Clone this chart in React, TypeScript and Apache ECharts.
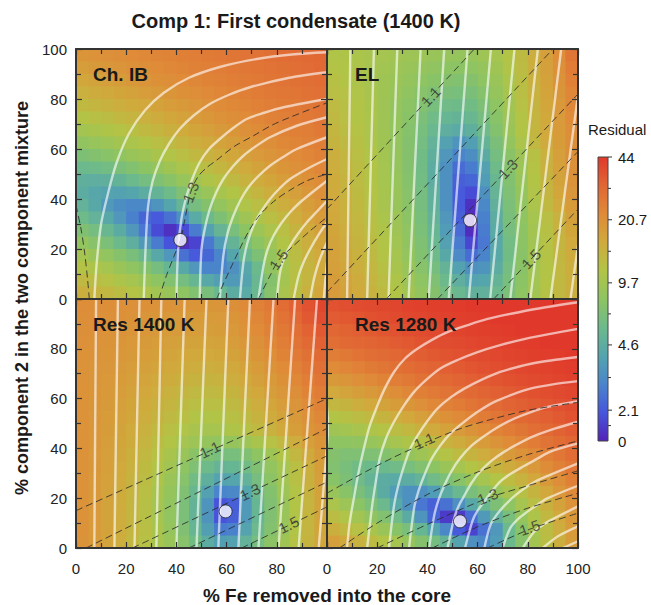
import React, { useEffect, useRef } from 'react';
import * as echarts from 'echarts';

const FONT = "'Liberation Sans', Arial, Helvetica, sans-serif";

// heat-map cell centres (5-unit cells), rows listed from top (97.5) to bottom (2.5)
const cellX = [2.5, 7.5, 12.5, 17.5, 22.5, 27.5, 32.5, 37.5, 42.5, 47.5, 52.5, 57.5, 62.5, 67.5, 72.5, 77.5, 82.5, 87.5, 92.5, 97.5];
const cellY = [97.5, 92.5, 87.5, 82.5, 77.5, 72.5, 67.5, 62.5, 57.5, 52.5, 47.5, 42.5, 37.5, 32.5, 27.5, 22.5, 17.5, 12.5, 7.5, 2.5];

// residual values
const resChIB = [
  [19.7, 20.4, 20.9, 21.4, 22, 22.6, 23.3, 23.8, 24.5, 25, 25.7, 26.3, 26.8, 27.4, 28, 28.6, 29.2, 29.8, 30.3, 30.8],
  [18, 18.7, 19.3, 20, 20.7, 21.3, 22, 22.5, 23.3, 24, 24.6, 25.2, 25.9, 26.5, 27.1, 27.7, 28.3, 29, 29.6, 30.1],
  [16.3, 17, 17.6, 18.3, 19.1, 19.9, 20.7, 21.3, 22, 22.8, 23.6, 24.2, 24.9, 25.6, 26.3, 26.9, 27.5, 28.1, 28.7, 29.3],
  [14.7, 15.3, 15.9, 16.6, 17.3, 18.1, 19, 19.8, 20.7, 21.5, 22.3, 23, 23.8, 24.5, 25.3, 26, 26.6, 27.2, 27.9, 28.5],
  [13, 13.6, 14.2, 14.9, 15.6, 16.4, 17.3, 18.1, 19, 20, 20.9, 21.7, 22.5, 23.4, 24.3, 25, 25.7, 26.4, 27, 27.6],
  [11.4, 11.9, 12.5, 13.2, 13.9, 14.7, 15.5, 16.3, 17.3, 18.3, 19.4, 20.4, 21.2, 22.1, 23, 23.9, 24.7, 25.4, 26.2, 26.8],
  [9.8, 10.3, 10.8, 11.5, 12.2, 13, 13.8, 14.6, 15.6, 16.6, 17.7, 18.7, 19.7, 20.8, 21.7, 22.7, 23.6, 24.4, 25.2, 26],
  [8.2, 8.7, 9.2, 9.8, 10.5, 11.3, 12.1, 12.9, 13.9, 14.9, 15.9, 17, 18, 19.2, 20.5, 21.4, 22.4, 23.3, 24.2, 25],
  [6.8, 7.2, 7.6, 8.1, 8.8, 9.5, 10.3, 11.1, 12.1, 13.2, 14.2, 15.2, 16.3, 17.5, 18.8, 20, 21.1, 22.1, 23, 24],
  [5.6, 5.8, 6.1, 6.6, 7.1, 7.9, 8.6, 9.5, 10.4, 11.5, 12.5, 13.5, 14.6, 15.8, 17.1, 18.4, 19.7, 20.9, 21.8, 23],
  [4.8, 4.7, 4.8, 5.1, 5.6, 6.2, 6.9, 7.7, 8.7, 9.7, 10.8, 11.8, 12.9, 14.2, 15.5, 16.7, 18.1, 19.4, 20.7, 21.8],
  [4.6, 4.2, 4, 3.9, 4.1, 4.6, 5.1, 5.8, 7, 8, 8.9, 10.1, 11.3, 12.5, 13.8, 15.1, 16.5, 17.8, 19.3, 20.8],
  [5, 4.3, 3.6, 3.2, 3, 3, 3.4, 4.1, 5.2, 6.3, 7.3, 8.4, 9.7, 10.9, 12.2, 13.5, 14.9, 16.4, 18, 19.6],
  [5.8, 5, 4.3, 3.5, 2.8, 2.3, 2.1, 2.5, 3.3, 4.4, 5.7, 6.8, 8, 9.4, 10.7, 12, 13.4, 15.1, 16.8, 18.5],
  [7, 6.2, 5.4, 4.5, 3.5, 2.6, 1.9, 1.6, 1.9, 2.7, 3.9, 5.2, 6.5, 7.9, 9.2, 10.6, 12.2, 14, 15.7, 17.5],
  [8.3, 7.5, 6.7, 5.7, 4.7, 3.6, 2.7, 2, 1.6, 1.8, 2.6, 3.7, 5.1, 6.5, 7.9, 9.4, 11.2, 13, 14.9, 16.7],
  [9.9, 9, 8.3, 7.4, 6.5, 5.4, 4.3, 3.5, 2.5, 2.1, 2.3, 2.9, 4.1, 5.4, 6.8, 8.6, 10.5, 12.3, 14.2, 16],
  [11.5, 10.7, 9.9, 9, 8.1, 7.2, 6.3, 5.3, 4.3, 3.5, 2.9, 2.9, 3.3, 4.2, 5.6, 8.2, 10, 11.9, 13.8, 15.8],
  [13.1, 12.3, 11.6, 10.7, 9.9, 8.9, 8, 7.1, 6.2, 5.3, 4.3, 3.8, 3.6, 4, 5.4, 7.3, 9.8, 11.8, 13.8, 16],
  [14.8, 13.9, 13.3, 12.5, 11.5, 10.6, 9.7, 8.9, 8, 7.1, 6.5, 5.5, 4.6, 4.4, 5.5, 7.5, 10.2, 12.3, 14.5, 16.5],
];

const resEL = [
  [11, 10.8, 10.5, 10.2, 9.9, 9.6, 9.3, 9.1, 8.9, 8.7, 8.6, 8.7, 9.3, 10, 11.2, 12.8, 15, 17.8, 21.5, 27],
  [11.4, 11, 10.6, 10.1, 9.7, 9.3, 8.9, 8.5, 8.2, 7.9, 7.8, 8, 8.6, 9.5, 10.9, 12.6, 14.8, 17.5, 20.8, 25.5],
  [11.8, 11.3, 10.7, 10.1, 9.5, 9, 8.5, 8, 7.6, 7.3, 7.1, 7.3, 8, 9, 10.5, 12.3, 14.6, 17.2, 20.2, 24.3],
  [12.2, 11.6, 10.9, 10.2, 9.5, 8.8, 8.1, 7.5, 7, 6.6, 6.4, 6.6, 7.4, 8.5, 10.1, 12, 14.3, 16.8, 19.6, 23.2],
  [12.7, 11.9, 11.1, 10.3, 9.4, 8.6, 7.8, 7.1, 6.4, 5.9, 5.8, 6, 6.8, 8, 9.7, 11.7, 14, 16.5, 19.2, 22.5],
  [13.1, 12.2, 11.3, 10.4, 9.4, 8.5, 7.6, 6.7, 5.9, 5.3, 5.1, 5.4, 6.3, 7.6, 9.3, 11.4, 13.7, 16.2, 18.8, 22],
  [13.5, 12.5, 11.5, 10.5, 9.4, 8.4, 7.4, 6.4, 5.5, 4.7, 4.4, 4.8, 5.8, 7.2, 9, 11.2, 13.5, 16, 18.6, 21.6],
  [14, 12.9, 11.8, 10.7, 9.5, 8.4, 7.3, 6.2, 5, 3.9, 3.4, 3.8, 5.1, 6.6, 8.4, 10.6, 13.2, 15.8, 18.4, 21.4],
  [14.9, 13.5, 12.2, 11, 9.8, 8.5, 7.3, 6, 4.8, 3.5, 2.9, 3.2, 4.5, 6.2, 7.7, 9.4, 11.8, 14.7, 17.7, 21],
  [15.2, 13.8, 12.4, 11.1, 9.9, 8.6, 7.3, 6, 4.6, 3.3, 2.4, 2.7, 3.9, 5.8, 7.4, 9.1, 11.5, 14.4, 17.4, 20.7],
  [15.5, 14.1, 12.6, 11.3, 10, 8.7, 7.4, 6.1, 4.6, 3.3, 2.2, 2.3, 3.7, 5.4, 7.1, 8.8, 11.2, 14, 17, 20.3],
  [15.8, 14.3, 12.8, 11.4, 10.1, 8.8, 7.5, 6.2, 4.8, 3.3, 2.1, 1.9, 3.3, 5.2, 6.9, 8.6, 10.9, 13.6, 16.5, 19.5],
  [16, 14.5, 13, 11.6, 10.2, 8.9, 7.7, 6.3, 4.9, 3.3, 2.1, 1.6, 3, 4.9, 6.7, 8.3, 10.5, 13, 15.8, 18.5],
  [16.2, 14.7, 13.3, 11.9, 10.5, 9.2, 7.8, 6.5, 5.1, 3.5, 2.2, 1.55, 2.8, 4.6, 6.5, 8.1, 10, 12, 14.5, 17.5],
  [16.6, 15.1, 13.6, 12.2, 10.8, 9.4, 8, 6.7, 5.3, 3.7, 2.4, 1.55, 2.7, 4.4, 6.3, 7.9, 9.8, 11.8, 14.2, 16.7],
  [17, 15.5, 14, 12.6, 11.1, 9.7, 8.2, 6.9, 5.5, 3.9, 2.7, 1.85, 2.6, 4.3, 6.1, 7.8, 9.7, 11.6, 13.8, 16],
  [17.4, 15.9, 14.4, 12.9, 11.4, 9.9, 8.4, 7.1, 5.8, 4.3, 3.1, 2.4, 2.9, 4.3, 6, 7.7, 9.6, 11.5, 13.5, 15.5],
  [17.8, 16.3, 14.8, 13.3, 11.8, 10.3, 8.8, 7.5, 6.3, 5.1, 3.9, 3.3, 3.4, 4.6, 6.2, 7.7, 9.6, 11.4, 13.3, 15],
  [18.3, 16.8, 15.3, 13.8, 12.3, 10.8, 9.2, 8, 6.9, 5.7, 4.7, 4, 4.1, 5.1, 6.4, 7.8, 9.6, 11.4, 13.2, 14.8],
  [18.8, 17.3, 15.8, 14.3, 12.8, 11.3, 9.6, 8.4, 7.3, 6.3, 5.5, 4.9, 4.9, 5.6, 6.7, 8, 9.7, 11.5, 13.2, 14.8],
];

const resRes1400 = [
  [21.5, 21.4, 21.3, 21.1, 20.9, 20.6, 20.4, 20.1, 19.9, 19.7, 19.6, 19.9, 21, 22.3, 24, 26.3, 29.3, 32.5, 36.5, 40],
  [21.3, 21.1, 20.9, 20.6, 20.3, 19.9, 19.6, 19.2, 18.9, 18.6, 18.5, 18.8, 19.8, 21.1, 22.8, 25, 27.7, 30.8, 34.5, 38],
  [21, 20.8, 20.5, 20.2, 19.8, 19.4, 19, 18.6, 18.3, 18.1, 18, 18.3, 19.2, 20.4, 22, 24, 26.3, 29, 32, 34.5],
  [20.8, 20.5, 20.1, 19.7, 19.2, 18.7, 18.2, 17.7, 17.3, 17, 16.9, 17.2, 18.1, 19.3, 20.9, 22.8, 25, 27.5, 30.3, 32.5],
  [20.5, 20.2, 19.8, 19.3, 18.7, 18.1, 17.5, 16.9, 16.4, 16.1, 16, 16.3, 17.2, 18.4, 19.8, 21.5, 23.5, 25.8, 28.3, 30],
  [20.5, 20, 19.5, 18.9, 18.2, 17.5, 16.8, 16.1, 15.5, 15.1, 15, 15.3, 16.1, 17.3, 18.6, 20.2, 22.1, 24.2, 26.5, 28.5],
  [20.5, 19.9, 19.2, 18.5, 17.7, 16.9, 16.1, 15.3, 14.6, 14.1, 14, 14.3, 15.1, 16.2, 17.5, 19, 20.7, 22.6, 24.8, 26.8],
  [20.5, 19.8, 19, 18.2, 17.3, 16.4, 15.4, 14.5, 13.7, 13.1, 12.9, 13.2, 14, 15.1, 16.4, 17.9, 19.5, 21.4, 23.5, 25.5],
  [20.5, 19.6, 18.7, 17.7, 16.7, 15.7, 14.6, 13.6, 12.8, 12.2, 12, 12.2, 12.9, 13.9, 15.1, 16.5, 18.1, 19.9, 22, 24],
  [20.5, 19.5, 18.5, 17.4, 16.3, 15.2, 14, 12.9, 12, 11.3, 11, 11.2, 11.9, 12.9, 14.1, 15.5, 17.1, 18.9, 20.9, 22.8],
  [20.5, 19.4, 18.3, 17.1, 15.8, 14.5, 13.2, 12, 10.9, 10.2, 9.9, 10.1, 10.8, 11.8, 13, 14.5, 16.1, 17.9, 19.8, 21.5],
  [20.5, 19.3, 18, 16.7, 15.3, 13.9, 12.5, 11.2, 10, 9.1, 8.5, 8.3, 8.6, 9.3, 10.3, 11.7, 13.4, 15.4, 17.6, 19.8],
  [20.5, 19.2, 17.8, 16.3, 14.8, 13.2, 11.7, 10.3, 8.9, 7.7, 6.9, 6.4, 6.4, 7, 8, 9.3, 11.2, 13.4, 15.9, 18.7],
  [20.5, 19.1, 17.6, 16, 14.4, 12.8, 11.2, 9.6, 8, 6.9, 5.8, 5.2, 5.3, 6, 7, 8.3, 10, 12.2, 14.8, 18],
  [20.5, 19, 17.4, 15.8, 14.1, 12.4, 10.7, 9, 7.5, 6, 4.8, 4, 4.1, 5, 6.3, 7.8, 9.6, 11.9, 14.6, 17.6],
  [20.5, 18.9, 17.3, 15.6, 13.9, 12.1, 10.3, 8.6, 7, 5.4, 3.9, 2.9, 3, 4.1, 5.6, 7.2, 9.1, 11.4, 14.1, 17.3],
  [20.5, 18.8, 17.1, 15.4, 13.6, 11.8, 10, 8.3, 6.7, 5.1, 3.4, 2, 2.2, 3.6, 5.3, 7, 8.9, 11.2, 13.9, 17],
  [20.5, 18.8, 17.1, 15.4, 13.6, 11.8, 10, 8.3, 6.7, 5.1, 3.4, 2, 2.2, 3.6, 5.3, 7, 8.9, 11.1, 13.8, 16.8],
  [20.5, 18.8, 17.1, 15.4, 13.7, 12, 10.3, 8.6, 7, 5.3, 3.8, 2.7, 2.8, 4, 5.6, 7.2, 9, 11.2, 13.8, 16.6],
  [20.3, 18.6, 16.9, 15.1, 13.4, 11.7, 10.1, 8.8, 7.5, 6, 4.6, 3.8, 3.9, 5, 6.2, 7.8, 9.5, 11.5, 14, 16.5],
];

const resRes1280 = [
  [36.4, 37.3, 38, 38.7, 39.4, 40.2, 41, 41.6, 42.2, 42.8, 43.4, 44, 44, 44, 44, 44, 44, 44, 44, 44],
  [33.7, 34.7, 35.7, 36.8, 37.6, 38.4, 39.2, 40, 40.8, 41.5, 42, 42.7, 43.3, 44, 44, 44, 44, 44, 44, 44],
  [31.1, 32.1, 33.1, 34.2, 35.3, 36.5, 37.4, 38.2, 39, 39.8, 40.6, 41.3, 42, 42.6, 43.3, 44, 44, 44, 44, 44],
  [28.9, 30, 30.9, 31.5, 32.6, 33.7, 34.9, 36, 37.2, 38, 38.8, 39.6, 40.5, 41.3, 42, 42.6, 43.2, 44, 44, 44],
  [25.2, 26.4, 27.6, 28.9, 29.9, 31.1, 32.2, 33.3, 34.6, 35.8, 37, 37.8, 38.7, 39.6, 40.4, 41.2, 41.9, 42.6, 43.2, 44],
  [22, 23.2, 24.3, 25.6, 26.8, 28.2, 29.4, 30.6, 31.8, 33, 34.3, 35.6, 36.9, 37.7, 38.6, 39.5, 40.4, 41.2, 42, 42.6],
  [18.9, 20, 21.1, 22.3, 23.6, 24.9, 26.3, 27.8, 28.9, 30.3, 31.6, 32.9, 34.2, 35.4, 36.8, 37.7, 38.6, 39.5, 40.5, 41.3],
  [16, 16.8, 17.9, 19, 20.3, 21.6, 22.9, 24.4, 25.9, 27.4, 28.9, 30, 31.4, 32.8, 34.1, 35.4, 36.8, 37.8, 38.7, 39.7],
  [13.4, 14, 15, 16, 17.1, 18.3, 19.6, 21.1, 22.5, 24, 25.5, 27.1, 28.7, 29.9, 31.4, 32.7, 34.1, 35.5, 36.9, 38],
  [11.3, 11.8, 12.4, 13.2, 14, 15.2, 16.4, 17.7, 19.1, 20.6, 22.2, 23.7, 25.4, 27, 28.6, 30, 31.5, 32.9, 34.4, 36],
  [9.5, 9.8, 10.2, 10.8, 11.5, 12.4, 13.4, 14.6, 15.8, 17.3, 18.8, 20.3, 22, 23.6, 25.4, 27, 28.8, 30.2, 31.9, 33.7],
  [8, 8, 8.2, 8.7, 9.3, 10, 10.8, 11.8, 12.9, 14.2, 15.5, 17, 18.6, 20.3, 22, 23.7, 25.5, 27.4, 29.4, 31.3],
  [7.3, 6.9, 6.9, 6.9, 7.2, 7.7, 8.5, 9.3, 10.3, 11.4, 12.7, 14, 15.4, 16.9, 18.7, 20.5, 22.3, 24.5, 26.7, 29.3],
  [7.1, 6.5, 6, 5.7, 5.7, 5.9, 6.4, 7.1, 7.9, 9, 10, 11.2, 12.5, 14, 15.5, 17.1, 19.2, 21.8, 24, 26.7],
  [7.6, 6.8, 5.9, 5.1, 4.6, 4.4, 4.6, 5.1, 5.9, 6.7, 7.6, 8.8, 9.9, 11.3, 12.7, 14.3, 16.4, 18.9, 21.5, 24.4],
  [8.9, 7.6, 6.6, 5.6, 4.5, 3.7, 3.3, 3.3, 3.7, 4.5, 5.5, 6.5, 7.5, 8.9, 10.2, 11.9, 14, 16.4, 19.3, 22.2],
  [10.4, 9.1, 7.8, 6.7, 5.6, 4.3, 3.3, 2.6, 2.2, 2.5, 3.3, 4.3, 5.5, 6.8, 8, 9.9, 12.1, 14.6, 17.3, 20.5],
  [12.5, 10.9, 9.6, 8.2, 7.1, 5.9, 4.5, 3.4, 2.3, 1.7, 1.7, 2.4, 3.6, 4.9, 6.5, 8.5, 10.7, 13.2, 16, 19.2],
  [14.8, 13.2, 11.7, 10.3, 9, 7.6, 6.5, 5.3, 4, 3, 2.1, 1.8, 2.5, 3.5, 5.6, 7.6, 9.9, 12.4, 15.2, 18.6],
  [17.8, 15.9, 14.3, 12.7, 11.2, 9.9, 8.5, 7.3, 6.2, 5.1, 4, 3.3, 3, 3.7, 5.6, 7.5, 9.8, 12.3, 14.9, 18.3],
];

// colour bar
const colorbarMin = 1.45;
const colorbarMax = 44;
const colorbarTicks = [44, 20.7, 9.7, 4.6, 2.1];
const colorbarTickLabels = ['44', '20.7', '9.7', '4.6', '2.1'];
const colorStops = ['#5222b8', '#4656dc', '#4a84cc', '#54a4ae', '#6cba8c', '#8ec462', '#b2c446', '#d0aa3c', '#df8a38', '#e16634', '#e0392b'];

// white (solid) iso-lines, [x, y] points
const whiteChIB = [
  [[7.3, 0], [8.3, 15], [10, 30], [12.7, 42], [16, 54], [21, 66], [27.5, 75.5], [35, 82.5], [45, 88.5], [58, 93], [72, 96], [86, 97.8], [100, 98.7]],
  [[27, 0], [27.7, 20], [28.7, 37], [30.5, 47], [33.3, 55], [37, 62], [41.3, 68], [47, 73.5], [53.3, 78], [61, 81.7], [69.3, 84.7], [85, 88.5], [100, 90.7]],
  [[40, 0], [40.7, 20], [42, 32], [44, 41], [46.5, 48.5], [49.3, 54.7], [53, 60], [57.3, 64], [62.5, 68.3], [68, 72], [75, 74.5], [82.7, 76.7], [100, 80]],
  [[49.3, 0], [50, 20], [51.5, 29], [53.3, 36], [55.8, 42.5], [58.7, 48], [62.5, 53], [66.7, 57.3], [71.8, 61.2], [77.3, 64.7], [88, 69.3], [100, 72.7]],
  [[57.3, 0], [58.7, 17.3], [60.3, 26], [62.7, 33.3], [65.5, 39.5], [68.7, 44.7], [72.8, 49.3], [77.3, 53.3], [82.5, 56.8], [88, 60], [100, 64.7]],
  [[65.3, 0], [66.7, 14.7], [68.3, 22.5], [70.7, 29.3], [73.8, 35], [77.3, 40], [81.2, 44.3], [85.3, 48], [93.3, 52.7], [100, 56]],
  [[72.7, 0], [74.7, 13.3], [76.4, 20], [78.7, 25.3], [81.8, 30.3], [85.3, 34.7], [89.2, 38.6], [93.3, 42], [100, 47.3]],
  [[80, 0], [81.3, 10.7], [83, 16.5], [85.3, 21.3], [88.5, 26.2], [92, 30.7], [96, 35], [100, 39.3]],
  [[86.7, 0], [88.7, 9.3], [90.8, 15], [93.3, 20], [96.5, 25.5], [100, 30.7]],
  [[93.3, 0], [94.8, 8], [96.8, 15], [100, 22.7]],
  [[98.7, 0], [99.3, 7], [100, 14.7]],
];
const whiteEL = [
  [[8, 0], [9.3, 100]], [[16, 0], [18.7, 100]], [[24.5, 0], [28, 100]], [[32.5, 0], [37.3, 100]],
  [[40.5, 0], [46.7, 100]], [[48.5, 0], [56, 100]], [[56.5, 0], [65.3, 100]], [[65, 0], [74.7, 100]],
  [[73, 0], [84, 100]], [[81, 0], [93.3, 100]], [[89, 0], [102.5, 100]], [[97, 0], [111, 100]],
];
const whiteRes1400 = [
  [[7.3, 0], [8, 100]], [[15.3, 0], [16.7, 100]], [[23.3, 0], [25.3, 100]], [[32, 0], [34, 100]],
  [[40, 0], [43.3, 100]], [[48, 0], [52, 100]], [[56.7, 0], [60.7, 100]], [[64.7, 0], [69.3, 100]],
  [[72.7, 0], [78.7, 100]], [[80.7, 0], [87.3, 100]], [[88.7, 0], [96, 100]], [[96.7, 0], [104.7, 100]],
];
const whiteRes1280 = [
  [[8, 0], [9, 10], [10.7, 20], [12.5, 30], [14.7, 40], [17, 49], [20, 57], [23, 64], [26.7, 70.7], [31, 76], [36, 80], [42, 83.7], [48, 86.7], [56, 89.5], [64, 92], [73, 94], [83, 96], [100, 98.7]],
  [[16, 0], [18, 17], [19.5, 27], [21, 36], [23.5, 44], [26.7, 50.7], [30.5, 57], [34.7, 62.7], [39.5, 67.5], [45, 72], [52, 75.5], [60, 78.7], [69, 81.5], [79, 84], [89, 86], [100, 88]],
  [[24.7, 0], [26.7, 17], [28.5, 25.5], [30.7, 33], [33, 39.5], [36, 45], [40, 51], [44, 56], [49, 60.3], [54.7, 64], [61.5, 67.5], [69, 70.7], [77, 73], [85, 74.7], [100, 76.7]],
  [[32.7, 0], [34.7, 16], [36.5, 23], [38.7, 29], [41.5, 35.5], [45, 41], [49.5, 46.3], [54.7, 50.7], [60.5, 55], [66.7, 58.7], [73.5, 61.5], [81, 64], [90, 65.7], [100, 67]],
  [[40.7, 0], [42.7, 13], [44.5, 19.5], [46.7, 25], [49.5, 30.7], [53, 36], [57.5, 41], [62.7, 45], [68.5, 48.8], [74.7, 52], [81, 54.5], [88, 56.7], [100, 59]],
  [[48, 0], [50.7, 12], [52.5, 17], [54.7, 21], [57.5, 26], [61, 30.7], [65.5, 35], [70.7, 38.7], [76.5, 42], [82.7, 45], [91, 48], [100, 50.7]],
  [[55, 0], [58, 11], [60, 15], [62.7, 18.7], [65.7, 22.8], [69, 26.7], [73.5, 30], [78.7, 33], [84, 36], [89, 38.7], [100, 42]],
  [[62.7, 0], [65, 9], [67.5, 13.2], [70.7, 17], [74.5, 20.7], [78.7, 24], [83, 26.7], [88, 29], [100, 34]],
  [[70, 0], [73, 8], [76.3, 11.8], [80, 14.7], [84, 17.5], [88, 20], [100, 25]],
  [[78, 0], [82.7, 6.7], [86.5, 9.6], [90.7, 12], [100, 16.7]],
  [[86, 0], [92, 4.7], [100, 8.7]],
  [[94, 0], [100, 2.7]],
];

// dashed iso-lines and their labels
const dashedChIB = [
  [[0, 37.5], [2, 28], [3.5, 18], [4.6, 8], [5.3, 0]],
  [[33, 0], [36, 9.3], [39, 17], [41.6, 23.6], [43.2, 31], [45.7, 42.7], [48.5, 48.8], [52, 52.5], [56, 55.5], [63, 61], [70.7, 65.3], [78, 69.5], [85.3, 72.7], [100, 78.5]],
  [[56, 0], [62.7, 14.7], [69.3, 28], [74, 34.5], [80, 40], [86, 44], [92, 47.3], [100, 50]],
  [[72.7, 0], [77.3, 9.3], [80.7, 15.5], [86.7, 21.3], [93.3, 27.3], [100, 32.7]],
];
const labelsChIB = [
  { x: 45.7, y: 42.7, text: '1.3', angle: 68 },
  { x: 80.7, y: 15.8, text: '1.5', angle: 55 },
];
const dashedEL = [
  [[0, 36], [58.7, 100]],
  [[0, 2.7], [90, 100]],
  [[23.6, 0], [100, 82]],
  [[44, 0], [100, 59]],
  [[66.4, 0], [100, 36]],
];
const labelsEL = [
  { x: 41.3, y: 81, text: '1.1', angle: 47 },
  { x: 72, y: 52, text: '1.3', angle: 47 },
  { x: 81.3, y: 16, text: '1.5', angle: 47 },
];
const dashedRes1400 = [
  [[0, 15], [100, 60]],
  [[4, 0], [100, 48]],
  [[22.5, 0], [100, 37]],
  [[45, 0], [100, 26.5]],
  [[66, 0], [100, 16.5]],
];
const labelsRes1400 = [
  { x: 53.3, y: 39.5, text: '1.1', angle: 25 },
  { x: 69.3, y: 22.5, text: '1.3', angle: 26 },
  { x: 84.7, y: 9.3, text: '1.5', angle: 26 },
];
const dashedRes1280 = [
  [[0, 22], [13.3, 29.5], [26.7, 36.5], [38.7, 42], [53.3, 48], [66.7, 52], [80, 55.3], [100, 58.5]],
  [[5, 0], [20, 10], [40, 21.5], [60, 30.5], [80, 37.5], [100, 43]],
  [[20, 0], [40, 9.5], [64, 20], [80, 25], [100, 31]],
  [[42, 0], [60, 8.5], [80, 16], [100, 22]],
  [[64, 0], [80.7, 7.5], [100, 14]],
];
const labelsRes1280 = [
  { x: 38.7, y: 43, text: '1.1', angle: 24 },
  { x: 64, y: 20.7, text: '1.3', angle: 22 },
  { x: 80.7, y: 8.2, text: '1.5', angle: 20 },
];

// best-fit points
const bestChIB = [41.6, 23.6];
const bestEL = [57, 31.5];
const bestRes1400 = [59.6, 14.7];
const bestRes1280 = [53, 10.7];

const panelNames = ['Ch. IB', 'EL', 'Res 1400 K', 'Res 1280 K'];

const panels = [
  { res: resChIB, white: whiteChIB, dashed: dashedChIB, labels: labelsChIB, best: bestChIB },
  { res: resEL, white: whiteEL, dashed: dashedEL, labels: labelsEL, best: bestEL },
  { res: resRes1400, white: whiteRes1400, dashed: dashedRes1400, labels: labelsRes1400, best: bestRes1400 },
  { res: resRes1280, white: whiteRes1280, dashed: dashedRes1280, labels: labelsRes1280, best: bestRes1280 },
];

const gridPos = [
  { left: 76, top: 49, width: 251, height: 250 },
  { left: 327, top: 49, width: 251, height: 250 },
  { left: 76, top: 299, width: 251, height: 249 },
  { left: 327, top: 299, width: 251, height: 249 },
];

function buildOption() {
  const half = (cellX[1] - cellX[0]) / 2;
  const axisBase = (g: number) => ({
    type: 'value',
    gridIndex: g,
    min: 0,
    max: 100,
    interval: 20,
    splitLine: { show: false },
    axisLine: { show: true, onZero: false, lineStyle: { color: '#333', width: 2 } },
    axisTick: { show: true, inside: true, length: 6, lineStyle: { color: '#333', width: 1.2 } },
    minorTick: { show: true, splitNumber: 2, length: 5, lineStyle: { color: '#333', width: 1.2 } },
    minorSplitLine: { show: false },
    z: 10,
  });
  const labelStyle = { fontSize: 15, color: '#222', fontFamily: FONT };
  const xAxis: any[] = [];
  const yAxis: any[] = [];
  gridPos.forEach((_, g) => {
    xAxis.push({
      ...axisBase(g),
      position: 'bottom',
      axisLabel: { show: g >= 2, margin: 13, ...labelStyle, formatter: (v: number) => (g === 2 && v === 100 ? '' : String(v)) },
    });
    xAxis.push({ ...axisBase(g), position: 'top', axisLabel: { show: false } });
    yAxis.push({
      ...axisBase(g),
      position: 'left',
      axisLabel: { show: g % 2 === 0, margin: 9, ...labelStyle, formatter: (v: number) => (g === 2 && v === 100 ? '' : String(v)) },
    });
    yAxis.push({ ...axisBase(g), position: 'right', axisLabel: { show: false } });
  });

  const series: any[] = [];
  panels.forEach((p, g) => {
    const data: number[][] = [];
    p.res.forEach((row, r) => row.forEach((v, c) => data.push([cellX[c], cellY[r], Math.log(v)])));
    series.push({
      type: 'custom',
      xAxisIndex: 2 * g,
      yAxisIndex: 2 * g,
      clip: true,
      silent: true,
      z: 1,
      data,
      renderItem: (params: any, api: any) => {
        const x = api.value(0);
        const y = api.value(1);
        const p0 = api.coord([x - half, y + half]);
        const p1 = api.coord([x + half, y - half]);
        return {
          type: 'rect',
          shape: { x: p0[0], y: p0[1], width: p1[0] - p0[0] + 0.8, height: p1[1] - p0[1] + 0.8 },
          style: { fill: api.visual('color') },
        };
      },
    });
  });
  panels.forEach((p, g) => {
    p.white.forEach((curve) => {
      series.push({
        type: 'line', xAxisIndex: 2 * g, yAxisIndex: 2 * g, data: curve, symbol: 'none', smooth: 0.3,
        silent: true, z: 3, clip: true,
        lineStyle: { color: 'rgba(255,255,255,0.62)', width: 2.4 },
      });
    });
    p.dashed.forEach((curve) => {
      series.push({
        type: 'line', xAxisIndex: 2 * g, yAxisIndex: 2 * g, data: curve, symbol: 'none', smooth: 0.3,
        silent: true, z: 4, clip: true,
        lineStyle: { color: '#2b2b2b', width: 1, type: [7, 4], opacity: 0.85 },
      });
    });
    series.push({
      type: 'scatter', xAxisIndex: 2 * g, yAxisIndex: 2 * g, silent: true, z: 5,
      symbol: 'circle', symbolSize: 1, itemStyle: { color: 'rgba(0,0,0,0)' },
      label: { show: true, position: 'inside', formatter: '{b}', fontSize: 15, color: '#333', fontFamily: FONT },
      data: p.labels.map((l) => ({ name: l.text, value: [l.x, l.y], label: { rotate: l.angle } })),
    });
    series.push({
      type: 'scatter', xAxisIndex: 2 * g, yAxisIndex: 2 * g, silent: true, z: 6,
      symbol: 'circle', symbolSize: 13,
      itemStyle: { color: '#ffffff', borderColor: '#222', borderWidth: 1 },
      data: [p.best],
    });
  });

  // colour bar
  const cbX = 598, cbTop = 157, cbBottom = 441, cbW = 10;
  const lnMin = Math.log(colorbarMin), lnMax = Math.log(colorbarMax);
  const cbY = (v: number) => cbBottom - ((Math.log(v) - lnMin) / (lnMax - lnMin)) * (cbBottom - cbTop);
  const graphics: any[] = [];
  const txt = (x: number, y: number, text: string, font: string, align = 'left', extra: any = {}) => ({
    type: 'text', x, y, z: 20, ...extra,
    style: { text, font, fill: '#1a1a1a', textAlign: align, textVerticalAlign: 'middle', align, verticalAlign: 'middle' },
  });
  graphics.push({
    type: 'rect', shape: { x: cbX, y: cbTop, width: cbW, height: cbBottom - cbTop },
    style: {
      fill: new echarts.graphic.LinearGradient(0, 1, 0, 0, colorStops.map((c, i) => ({ offset: i / (colorStops.length - 1), color: c }))),
      stroke: '#444', lineWidth: 1,
    },
  });
  colorbarTicks.forEach((v, i) => {
    const y = cbY(v);
    graphics.push({ type: 'line', shape: { x1: cbX + cbW, y1: y, x2: cbX + cbW + 4, y2: y }, style: { stroke: '#333', lineWidth: 1 } });
    graphics.push(txt(618, y, colorbarTickLabels[i], `15px ${FONT}`));
    const next = i + 1 < colorbarTicks.length ? colorbarTicks[i + 1] : colorbarMin;
    const ym = cbY(Math.sqrt(v * next));
    graphics.push({ type: 'line', shape: { x1: cbX + cbW, y1: ym, x2: cbX + cbW + 3, y2: ym }, style: { stroke: '#333', lineWidth: 1 } });
  });
  graphics.push(txt(618, cbBottom, '0', `15px ${FONT}`));
  graphics.push(txt(588, 129, 'Residual', `15px ${FONT}`));

  // titles
  graphics.push(txt(296, 21, 'Comp 1: First condensate (1400 K)', `bold 20px ${FONT}`, 'center'));
  graphics.push(txt(327, 595, '% Fe removed into the core', `bold 19px ${FONT}`, 'center'));
  graphics.push(txt(22, 298, '% component 2 in the two component mixture', `bold 18px ${FONT}`, 'center', { rotation: Math.PI / 2 }));
  panelNames.forEach((name, g) => {
    const gp = gridPos[g];
    graphics.push(txt(gp.left + (g % 2 === 0 ? 17 : 28), gp.top + 25, name, `bold 19px ${FONT}`));
  });

  return {
    animation: false,
    backgroundColor: '#ffffff',
    grid: gridPos.map((g) => ({ ...g, containLabel: false })),
    xAxis,
    yAxis,
    visualMap: {
      type: 'continuous', show: false, seriesIndex: [0, 1, 2, 3], dimension: 2,
      min: lnMin, max: lnMax, inRange: { color: colorStops },
    },
    series,
    graphic: graphics,
  };
}

export default function App() {
  const ref = useRef<HTMLDivElement>(null);
  useEffect(() => {
    const chart = echarts.init(ref.current as HTMLDivElement, null, { renderer: 'svg' });
    chart.setOption(buildOption() as any);
    return () => chart.dispose();
  }, []);
  return <div ref={ref} style={{ position: 'absolute', left: 0, top: 0, width: 651, height: 605, background: '#fff' }} />;
}
